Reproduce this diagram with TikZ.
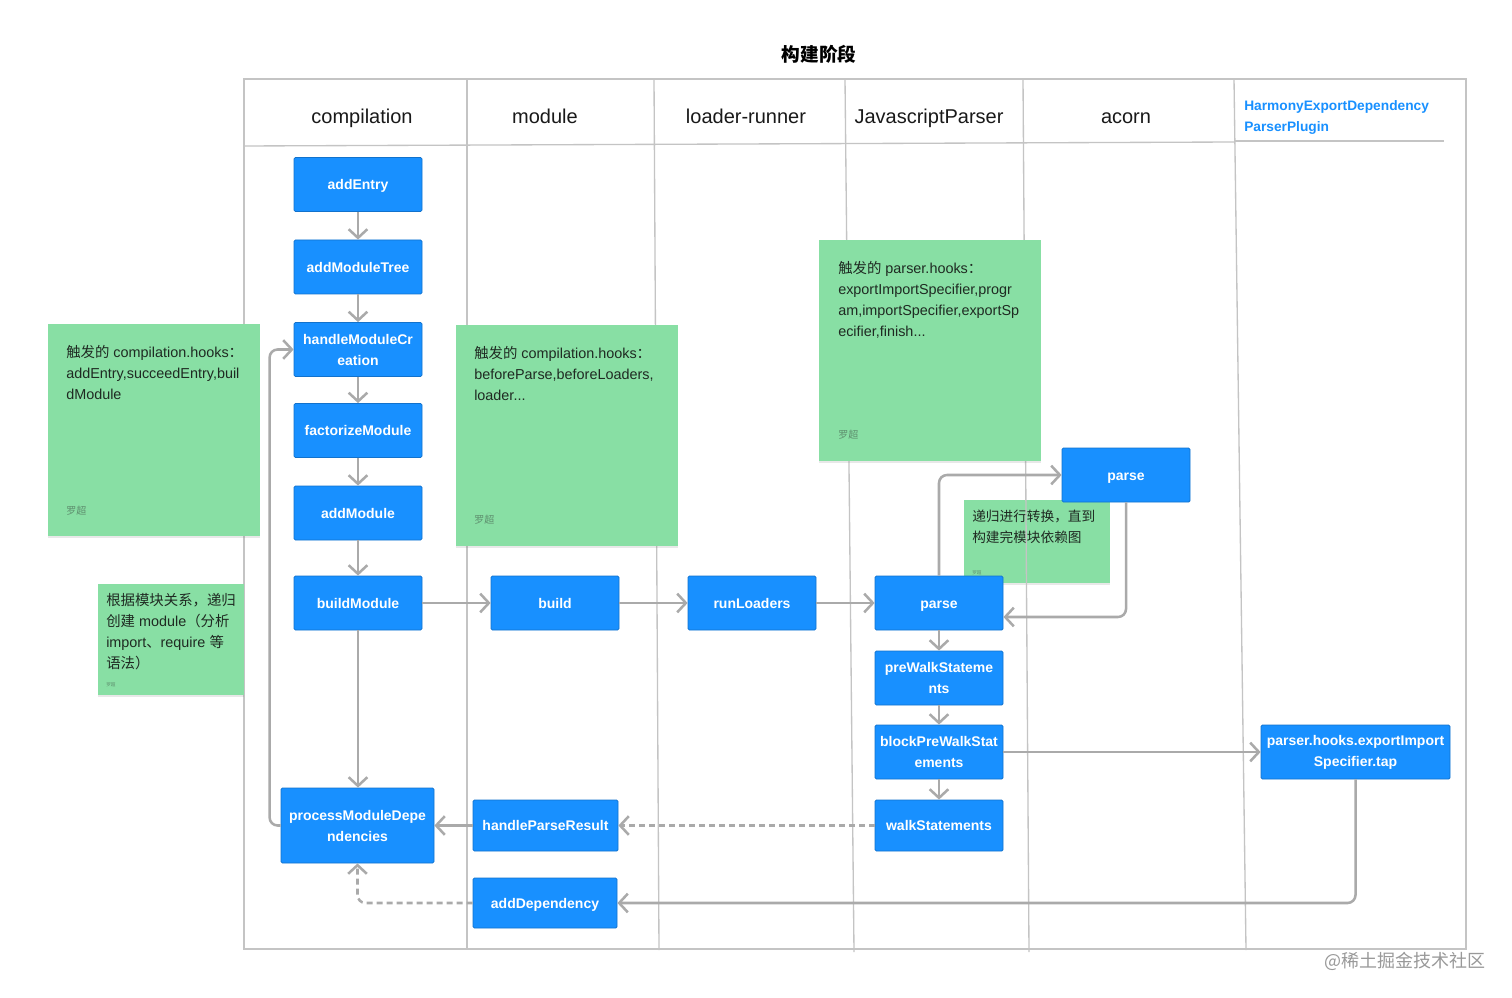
\documentclass[tikz,border=0pt]{standalone}
\usepackage{fontspec}
\setmainfont{Liberation Sans}
\newfontfamily\cjk{Noto Sans CJK SC}
\usetikzlibrary{arrows.meta,shadows,calc}
\definecolor{boxblue}{HTML}{1890FF}
\definecolor{boxedge}{HTML}{1272CC}
\definecolor{notegreen}{HTML}{88DFA4}
\definecolor{conngray}{HTML}{AAAAAA}
\definecolor{lanegray}{HTML}{C4C4C4}
\definecolor{harmblue}{HTML}{1890FF}
\definecolor{sigcol}{HTML}{5E8F6E}
\definecolor{notetxt}{HTML}{1F2A22}
\begin{document}
\begin{tikzpicture}[x=0.75pt,y=-0.75pt,
  box/.style={draw=boxedge, line width=0.6pt, fill=boxblue, rounded corners=1pt, text=white,
    font=\bfseries\fontsize{10.5}{15.75}\selectfont, align=center, inner sep=0pt,
    minimum width=96pt, minimum height=40.5pt},
  one/.style={text height=7.6pt, text depth=0pt},
  note/.style={fill=notegreen, inner sep=0pt,
    drop shadow={opacity=0.18, shadow xshift=0pt, shadow yshift=-1.2pt}},
  notetext/.style={anchor=north west, inner sep=0pt, align=left, text=notetxt,
    font=\fontsize{10.8}{15.75}\selectfont},
  sig/.style={anchor=west, inner sep=0pt, text=sigcol, font=\cjk\fontsize{7.5}{9}\selectfont},
  tinysig/.style={anchor=west, inner sep=0pt, text=sigcol, font=\cjk\fontsize{3.5}{4}\selectfont},
  conn/.style={draw=conngray, line width=1.9pt, -{Straight Barb[length=6.5pt,width=14pt]}, rounded corners=6pt},
  dashconn/.style={conn, dash pattern=on 4.5pt off 3pt},
  lane/.style={draw=lanegray, line width=1pt},
  header/.style={font=\fontsize{15}{18}\selectfont, text=black!90, inner sep=0pt, text height=10.9pt, text depth=0pt}
]
\useasboundingbox (0,0) rectangle (1512,998);
\fill[white] (0,0) rectangle (1512,998);

% title
\node[font=\cjk\bfseries\fontsize{14}{16}\selectfont, inner sep=0pt] (title) at (819,54) {构建阶段};

% note under lane lines
\node[note, minimum width=109.5pt, minimum height=62.25pt] (n4) at (1037,541.5) {};
\node[notetext, font=\cjk\fontsize{10.25}{15.75}\selectfont] (n4t) at (972,510) {递归进行转换，直到\\构建完模块依赖图};
\node[tinysig] (n4s) at (972,573) {罗超};

% frame and lanes
\draw[lane] (244,79) -- (1466,79) -- (1466,949) -- (244,949) -- cycle;
\draw[lane] (244,146) -- (1234,142);
\draw[lane] (1234,141) -- (1444,141);
\draw[lane] (467,79) -- (467,950);
\draw[lane] (654,79) -- (659,950);
\draw[lane] (845,79) -- (854,952);
\draw[lane] (1023,79) -- (1029,952);
\draw[lane] (1234,79) -- (1246,950);

% headers
\node[header] (hcomp) at (362,116) {compilation};
\node[header] (hmod) at (545,116) {module};
\node[header] (hload) at (746,116) {loader-runner};
\node[header] (hjs) at (929,116) {JavascriptParser};
\node[header] (hacorn) at (1126,116) {acorn};
\node[anchor=west, align=left, inner sep=0pt, text=harmblue,
  font=\bfseries\fontsize{10.3}{15.75}\selectfont] (hharm) at (1244,117) {HarmonyExportDependency\\ParserPlugin};

% notes
\node[note, minimum width=159pt, minimum height=159pt] (n1) at (154,430) {};
\node[notetext] (n1t) at (66,345) {{\cjk 触发的} compilation.hooks{\cjk ：}\\addEntry,succeedEntry,buil\\dModule};
\node[sig] (n1s) at (66,511) {罗超};

\node[note, minimum width=166.5pt, minimum height=165.75pt] (n2) at (567,435.5) {};
\node[notetext] (n2t) at (474,346) {{\cjk 触发的} compilation.hooks{\cjk ：}\\beforeParse,beforeLoaders,\\loader...};
\node[sig] (n2s) at (474,520) {罗超};

\node[note, minimum width=166.5pt, minimum height=165.75pt] (n3) at (930,350.5) {};
\node[notetext] (n3t) at (838,261) {{\cjk 触发的} parser.hooks{\cjk ：}\\exportImportSpecifier,progr\\am,importSpecifier,exportSp\\ecifier,finish...};
\node[sig] (n3s) at (838,435) {罗超};

\node[note, minimum width=109.5pt, minimum height=83.25pt] (n5) at (171,639.5) {};
\node[notetext] (n5t) at (106,593) {{\cjk 根据模块关系，递归}\\{\cjk 创建} module{\cjk （分析}\\import{\cjk 、}require {\cjk 等}\\{\cjk 语法）}};
\node[tinysig] (n5s) at (106,685) {罗超};

% boxes
\node[box, one] (addEntry) at (358,184.5) {addEntry};
\node[box, one] (addTree) at (358,267) {addModuleTree};
\node[box] (hmc) at (358,349.5) {handleModuleCr\\eation};
\node[box, one] (factorize) at (358,430.5) {factorizeModule};
\node[box, one] (addModule) at (358,513) {addModule};
\node[box, one] (buildModule) at (358,603) {buildModule};
\node[box, one] (build) at (555,603) {build};
\node[box, one] (runLoaders) at (752,603) {runLoaders};
\node[box, one] (jsparse) at (939,603) {parse};
\node[box, one] (acparse) at (1126,475) {parse};
\node[box] (prewalk) at (939,678) {preWalkStateme\\nts};
\node[box] (blockpre) at (939,752) {blockPreWalkStat\\ements};
\node[box, one, minimum height=38.25pt] (walk) at (939,825.5) {walkStatements};
\node[box, minimum width=141.75pt] (tap) at (1355.5,752) {parser.hooks.exportImport\\Specifier.tap};
\node[box, minimum width=114.75pt, minimum height=56.25pt] (pmd) at (357.5,825.5) {processModuleDepe\\ndencies};
\node[box, one, minimum width=108.75pt, minimum height=38.25pt] (hpr) at (545.5,825.5) {handleParseResult};
\node[box, one, minimum width=108pt, minimum height=37.5pt] (adddep) at (545,903) {addDependency};

% connectors
\draw[conn] (addEntry) -- (addTree);
\draw[conn] (addTree) -- (hmc);
\draw[conn] (hmc) -- (factorize);
\draw[conn] (factorize) -- (addModule);
\draw[conn] (addModule) -- (buildModule);
\draw[conn] (buildModule) -- (build);
\draw[conn] (build) -- (runLoaders);
\draw[conn] (runLoaders) -- (jsparse);
\draw[conn] (buildModule.south) -- (buildModule.south |- pmd.north);
\draw[conn] (pmd.west) -- ++(-11,0) |- (hmc.west);
\draw[conn] (jsparse.north) |- (acparse.west);
\draw[conn] (acparse.south) |- ([yshift=-10.5pt]jsparse.east);
\draw[conn] (jsparse) -- (prewalk);
\draw[conn] (prewalk) -- (blockpre);
\draw[conn] (blockpre) -- (walk);
\draw[conn] (blockpre) -- (tap);
\draw[dashconn] (walk) -- (hpr);
\draw[conn] (hpr) -- (pmd);
\draw[conn] (tap.south) |- (adddep.east);
\draw[dashconn] (adddep.west) -| (pmd.south);

% watermark
\node[font=\cjk\fontsize{13.5}{15}\selectfont, text=black!40, inner sep=0pt] (wm) at (1405,961) {@稀土掘金技术社区};
\end{tikzpicture}
\end{document}
